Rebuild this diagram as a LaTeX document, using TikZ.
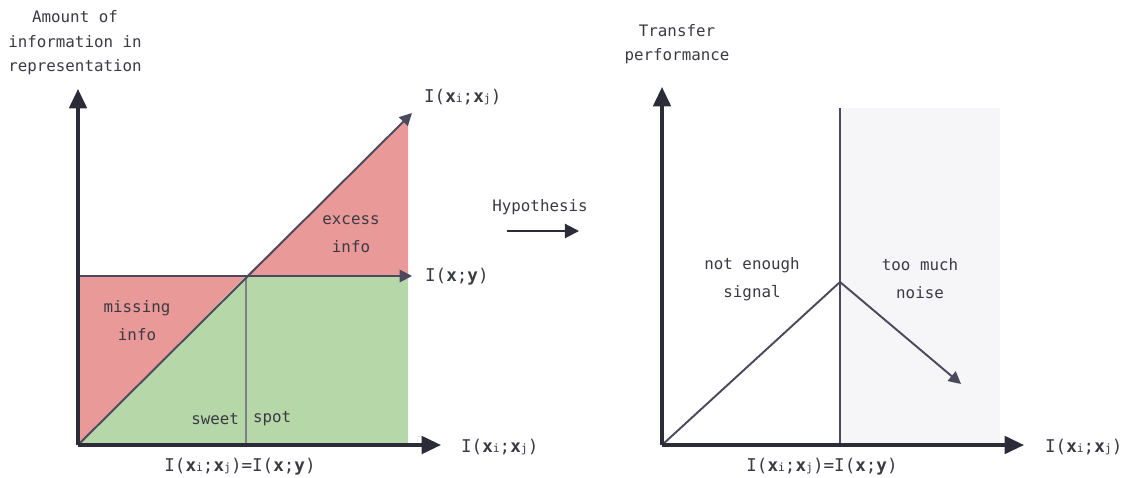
\documentclass[tikz,border=0pt]{standalone}
\usepackage{fontspec}
\setmonofont{DejaVu Sans Mono}
\usetikzlibrary{arrows.meta,positioning}
\definecolor{axisdark}{HTML}{2C2C38}
\definecolor{linegray}{HTML}{4A4A5C}
\definecolor{missred}{HTML}{EA9999}
\definecolor{sweetgreen}{HTML}{B6D7A8}
\definecolor{noisegray}{HTML}{F6F6F9}
\definecolor{textgray}{HTML}{3A3A42}
\newcommand{\subidx}[1]{{\fontsize{6.5}{7}\selectfont #1}}
\newcommand{\mixx}{I(\textbf{x}\subidx{i};\textbf{x}\subidx{j})}
\newcommand{\mixy}{I(\textbf{x};\textbf{y})}

\begin{document}
\begin{tikzpicture}[x=0.02cm, y=-0.02cm, font=\ttfamily\fontsize{9}{14}\selectfont, text=textgray,
  axis/.style={draw=axisdark, line width=1.8pt, -{Triangle[length=11pt,width=10pt]}},
  plotline/.style={draw=linegray, line width=1.1pt, -{Triangle[length=7pt,width=7pt]}},
  thinline/.style={draw=linegray!70, line width=0.6pt},
  note/.style={align=center, inner sep=1pt},
  areanote/.style={note, font=\ttfamily\fontsize{9}{16}\selectfont},
  formula/.style={font=\ttfamily\fontsize{10}{12}\selectfont, inner sep=1pt}]
\useasboundingbox (0,0) rectangle (1124,477);

% left chart: information in representation
\coordinate (o1) at (78,445);
\coordinate (cross) at (246,276);
\coordinate (ytop) at (78,276);
\coordinate (foot) at (246,445);
\fill[missred] (o1) -- (ytop) -- (cross) -- cycle;
\fill[missred] (cross) -- (408,118) -- (408,276) -- cycle;
\fill[sweetgreen] (o1) -- (cross) -- (408,276) -- (408,445) -- cycle;
\draw[thinline] (cross) -- (foot);
\coordinate (htip) at (412,276);
\coordinate (dtip) at (412,113);
\draw[plotline] (ytop) -- (htip);
\draw[plotline] (o1) -- (dtip);
\coordinate (ytip1) at (78,89);
\coordinate (xtip1) at (441,445);
\draw[axis] (o1) -- (ytip1);
\draw[axis] (o1) -- (xtip1);

\node[note] (ylab1) at (75,43) {Amount of\\information in\\representation};
\node[formula, anchor=west] (dlab) at (422,97) {\mixx};
\node[formula, anchor=west] (hlab) at (423,277) {\mixy};
\node[formula, anchor=west] (xlab1) at (459,447) {\mixx};
\node[formula] (eqlab1) at (240,467) {\mixx=\mixy};
\node[areanote] (excess) at (351,234) {excess\\info};
\node[areanote] (missing) at (137,321) {missing\\info};
\node[note, anchor=east] (sweet) at (241,419) {sweet};
\node[note, anchor=west] (spot) at (251,419) {spot};

% hypothesis
\node[inner sep=1pt] (hyp) at (540,207) {Hypothesis};
\coordinate (hstart) at (507,231);
\coordinate (hend) at (579,231);
\draw[draw=axisdark, line width=1.2pt, -{Triangle[length=8pt,width=8pt]}] (hstart) -- (hend);

% right chart: transfer performance
\coordinate (o2) at (662,445);
\coordinate (peak) at (840,282);
\coordinate (sep) at (840,108);
\coordinate (sepfoot) at (840,445);
\fill[noisegray] (sep) rectangle (1000,445);
\draw[thinline, draw=linegray] (sep) -- (sepfoot);
\coordinate (ntip) at (961,384);
\draw[plotline] (o2) -- (peak) -- (ntip);
\coordinate (ytip2) at (662,87);
\coordinate (xtip2) at (1024,445);
\draw[axis] (o2) -- (ytip2);
\draw[axis] (o2) -- (xtip2);

\node[note] (ylab2) at (677,44) {Transfer\\performance};
\node[areanote] (signal) at (752,279) {not enough\\signal};
\node[areanote] (noise) at (920,279) {too much\\noise};
\node[formula, anchor=west] (xlab2) at (1043,447) {\mixx};
\node[formula] (eqlab2) at (822,467) {\mixx=\mixy};
\end{tikzpicture}
\end{document}
